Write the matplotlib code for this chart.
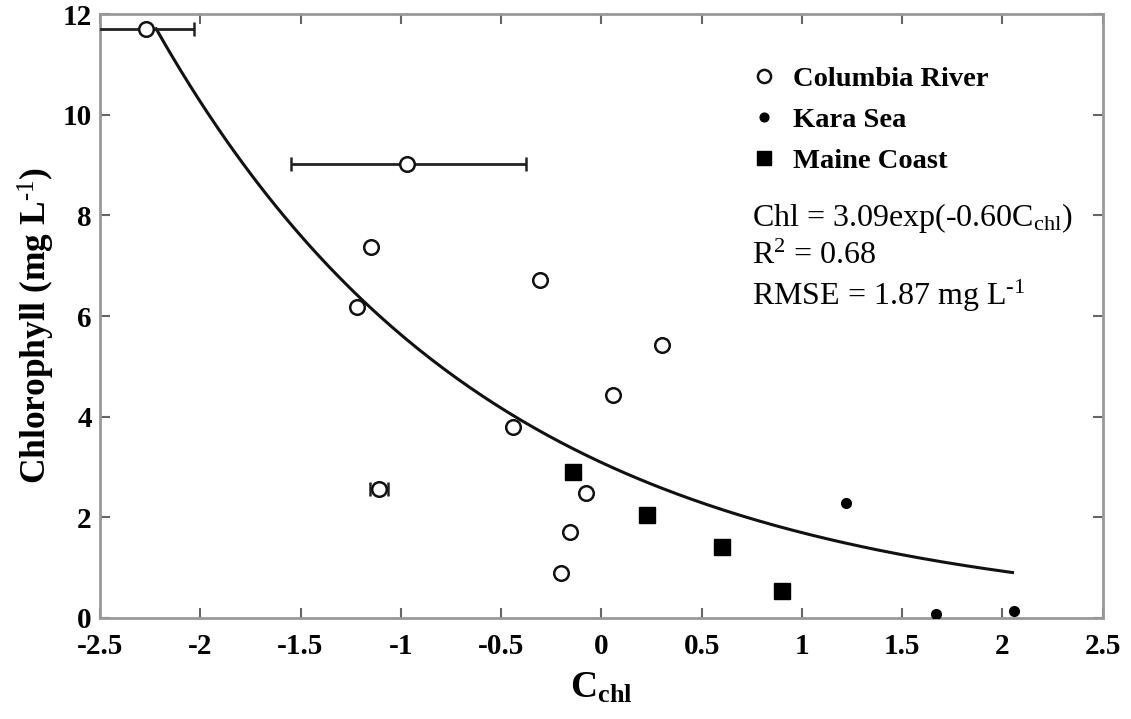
import numpy as np
import matplotlib
matplotlib.use("Agg")
import matplotlib.pyplot as plt

plt.rcParams['font.family'] = ['Liberation Serif', 'DejaVu Serif']
plt.rcParams['mathtext.fontset'] = 'custom'
plt.rcParams['mathtext.rm'] = 'Liberation Serif'
plt.rcParams['mathtext.it'] = 'Liberation Serif'
plt.rcParams['mathtext.bf'] = 'Liberation Serif:bold'

# Columbia River (open circles)
cr_x = [-2.27, -0.967, -1.147, -1.216, -0.304, 0.30, 0.06, -0.44, -0.075, -0.155, -0.20, -1.107]
cr_y = [11.71, 9.03, 7.38, 6.18, 6.72, 5.43, 4.43, 3.80, 2.49, 1.71, 0.89, 2.56]
cr_xerr_lo = [0.26, 0.58, 0, 0, 0, 0, 0, 0, 0, 0, 0, 0.045]
cr_xerr_hi = [0.24, 0.59, 0, 0, 0, 0, 0, 0, 0, 0, 0, 0.045]

# Kara Sea (filled dots)
ks_x = [1.22, 1.67, 2.06]
ks_y = [2.29, 0.08, 0.14]

# Maine Coast (filled squares)
mc_x = [-0.14, 0.23, 0.60, 0.90]
mc_y = [2.90, 2.05, 1.41, 0.54]

# Fit: Chl = a * exp(b * C)
fit_a = 3.09
fit_b = -0.60
fit_range = [-2.22, 2.05]

x_ticks = [-2.5, -2, -1.5, -1, -0.5, 0, 0.5, 1, 1.5, 2, 2.5]
x_ticklabels = ['-2.5', '-2', '-1.5', '-1', '-0.5', '0', '0.5', '1', '1.5', '2', '2.5']
y_ticks = [0, 2, 4, 6, 8, 10, 12]

fig = plt.figure(figsize=(11.31, 7.19), dpi=100)
ax = fig.add_axes([0.0884, 0.1405, 0.8866, 0.84])

xf = np.linspace(fit_range[0], fit_range[1], 200)
ax.plot(xf, fit_a * np.exp(fit_b * xf), color='#111111', lw=2.2, zorder=2)

# error bars
err_idx = [i for i in range(len(cr_x)) if cr_xerr_lo[i] > 0]
ax.errorbar([cr_x[i] for i in err_idx], [cr_y[i] for i in err_idx],
            xerr=[[cr_xerr_lo[i] for i in err_idx], [cr_xerr_hi[i] for i in err_idx]],
            fmt='none', ecolor='#222222', elinewidth=2, capsize=5, capthick=1.8, zorder=3)

ax.plot(cr_x, cr_y, 'o', mfc='white', mec='#111111', mew=1.8, ms=10.5, ls='none', zorder=4,
        label='Columbia River')
ax.plot(ks_x, ks_y, 'o', mfc='black', mec='black', ms=7, ls='none', zorder=4, label='Kara Sea')
ax.plot(mc_x, mc_y, 's', mfc='black', mec='black', ms=11, ls='none', zorder=4, label='Maine Coast')

ax.set_xlim(-2.5, 2.5)
ax.set_ylim(0, 12)
ax.set_xticks(x_ticks)
ax.set_xticklabels(x_ticklabels)
ax.set_yticks(y_ticks)
ax.tick_params(direction='in', top=True, right=True, length=7, width=1.5, color='#666666',
               labelsize=21)
ax.tick_params(axis='x', pad=11)
ax.tick_params(axis='y', pad=6)
for lab in ax.get_xticklabels() + ax.get_yticklabels():
    lab.set_fontweight('bold')
for sp in ax.spines.values():
    sp.set_color('#999999')
    sp.set_linewidth(2)

ax.set_xlabel(r'$\mathbf{C_{chl}}$', fontsize=27, labelpad=8)
ax.set_ylabel(r'Chlorophyll (mg L$^{\mathbf{\text{-1}}}$)', fontsize=25.5, fontweight='bold', labelpad=3)
ax.yaxis.set_label_coords(-0.043, 0.485)

leg = ax.legend(loc='upper left', bbox_to_anchor=(0.637, 0.932), borderaxespad=0, frameon=False,
                prop={'family': 'Liberation Serif', 'weight': 'bold', 'size': 20.5},
                handletextpad=0.5, labelspacing=0.53, handlelength=1.0, markerscale=0.9)

tx = 0.650
ax.text(tx, 0.649, r'Chl = 3.09exp(-0.60C$_{\mathrm{chl}}$)', transform=ax.transAxes,
        fontsize=23, va='baseline', ha='left')
ax.text(tx, 0.586, r'R$^{2}$ = 0.68', transform=ax.transAxes, fontsize=23, va='baseline')
ax.text(tx, 0.518, r'RMSE = 1.87 mg L$^{\text{-1}}$', transform=ax.transAxes, fontsize=23,
        va='baseline')

fig.savefig('out.png', dpi=100)
